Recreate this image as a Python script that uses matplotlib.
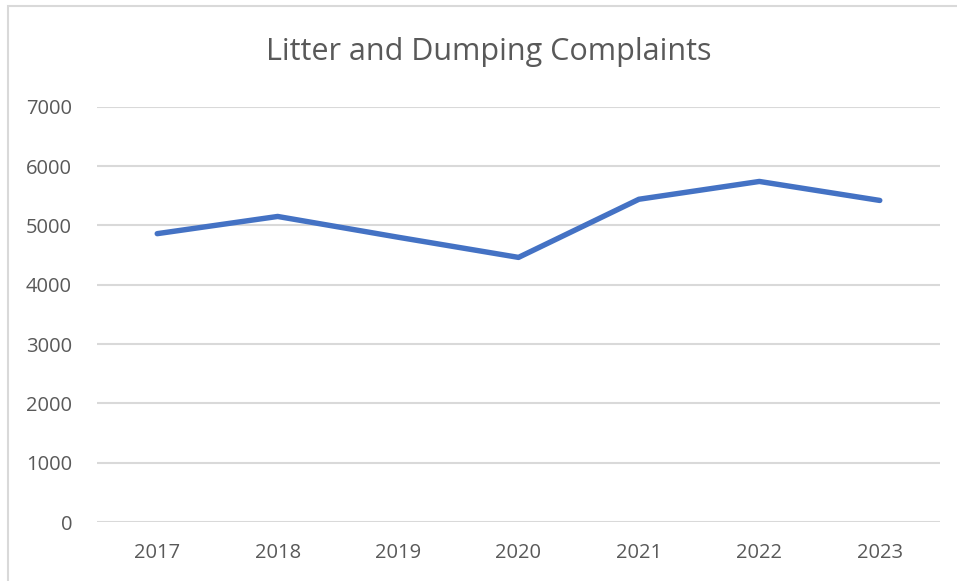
import matplotlib.pyplot as plt
from matplotlib.patches import Rectangle

# yearly complaint counts
years = ['2017', '2018', '2019', '2020', '2021', '2022', '2023']
complaints = [4860, 5150, 4800, 4460, 5440, 5740, 5420]
y_ticks = [0, 1000, 2000, 3000, 4000, 5000, 6000, 7000]

plt.rcParams['font.family'] = ['Open Sans', 'DejaVu Sans']
text_col = '#595959'
grid_col = '#d9d9d9'

fig = plt.figure(figsize=(9.57, 5.81), dpi=100)
fig.patch.set_facecolor('white')

# outer chart border (only top/left edges fall inside the image)
fig.patches.append(Rectangle((8 / 957, -0.05), 1.05, 0.05 + 1 - 6 / 581,
                             transform=fig.transFigure, fill=False,
                             edgecolor=grid_col, linewidth=1.5))

ax = fig.add_axes([97 / 957, 1 - 522 / 581, (940 - 97) / 957, (522 - 106.7) / 581])
x = range(len(years))
ax.plot(x, complaints, color='#4472c4', linewidth=3.9,
        solid_capstyle='round', solid_joinstyle='round', zorder=3)

ax.set_xlim(-0.5, len(years) - 0.5)
ax.set_ylim(0, 7000)
ax.set_xticks(list(x))
ax.set_xticklabels(years)
ax.set_yticks(y_ticks)
ax.set_yticklabels([str(v) for v in y_ticks])

for s in ax.spines.values():
    s.set_visible(False)
ax.grid(axis='y', color=grid_col, linewidth=1.5)
ax.set_axisbelow(True)
ax.tick_params(length=0, labelsize=14.5, colors=text_col)
ax.tick_params(axis='y', pad=18)
ax.tick_params(axis='x', pad=15)

fig.text(489 / 957, 1 - 52 / 581, 'Litter and Dumping Complaints',
         ha='center', va='center', fontsize=22, color=text_col)

fig.savefig('out.png', dpi=100)
